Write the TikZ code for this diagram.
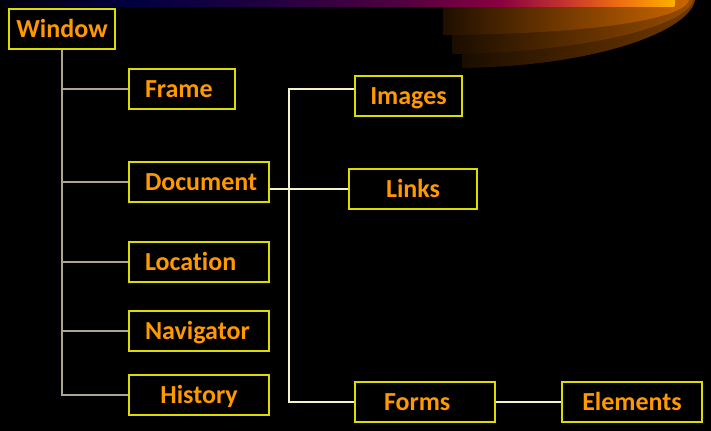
\documentclass[tikz,border=0pt]{standalone}
\usepackage{fontspec}
\setmainfont{Carlito}[Ligatures=NoCommon]
\usepackage{xcolor}
\usepackage{tikz}

\definecolor{boxyellow}{HTML}{DCDC00}
\definecolor{txtorange}{HTML}{FF9900}
\definecolor{wgrey}{HTML}{ABA78F}
\definecolor{dcream}{HTML}{F4F2C8}
\definecolor{barA}{HTML}{00000C}
\definecolor{barB}{HTML}{000040}
\definecolor{barC}{HTML}{200040}
\definecolor{barD}{HTML}{500040}
\definecolor{barE}{HTML}{8A0040}
\definecolor{barF}{HTML}{C03030}
\definecolor{barG}{HTML}{F07010}
\definecolor{barH}{HTML}{FFB000}
\pgfdeclarehorizontalshading{topbar}{100bp}{color(0bp)=(barA); color(25bp)=(barA);
  color(34.6bp)=(barB); color(44.3bp)=(barC); color(54.6bp)=(barD); color(62bp)=(barE);
  color(66.5bp)=(barF); color(71bp)=(barG); color(75bp)=(barH); color(100bp)=(barH)}

\begin{document}
\begin{tikzpicture}[x=0.5pt, y=-0.5pt,
        objbox/.style={draw=boxyellow, line width=0.75pt, fill=black, text=txtorange,
            font=\bfseries\fontsize{13}{15}\selectfont, minimum height=20pt,
            inner ysep=0pt, inner xsep=2pt, text height=8.4pt, text depth=0pt},
        lbox/.style={objbox, align=left, inner xsep=8pt, text width=#1},
        wline/.style={draw=wgrey, line width=0.9pt},
        dline/.style={draw=dcream, line width=0.6pt}]
    \useasboundingbox (0,0) rectangle (711,431);
    \fill[black] (0,0) rectangle (711,431);

    % swoosh at the top
    \shade[left color=black!90!orange, right color=orange!45!black]
        (462,0) -- (462,68) .. controls (600,66) and (690,30) .. (695,0) -- cycle;
    \shade[left color=black!90!orange, right color=orange!60!black]
        (452,0) -- (452,54) .. controls (590,52) and (688,25) .. (693,0) -- cycle;
    \shade[left color=black!88!orange, right color=orange!80!black]
        (443,0) -- (443,35) .. controls (600,34) and (685,18) .. (689,0) -- cycle;
    \shade[shading=topbar] (0,0) -- (0,7) -- (671,7) .. controls (675,7) .. (675,3) -- (675,0) -- cycle;

    \node[objbox, minimum width=53pt] (window) at (62,29) {Window};

    \node[lbox=37pt] (frame) at (182,89) {Frame};
    \node[lbox=54pt] (document) at (199,182) {Document};
    \node[lbox=54pt] (location) at (199,262) {Location};
    \node[lbox=54pt] (navigator) at (199,331) {Navigator};
    \node[objbox, minimum width=70pt] (history) at (199,395) {History};

    \node[objbox, minimum width=53.5pt] (images) at (408.5,96) {Images};
    \node[objbox, minimum width=64pt] (links) at (413,189) {Links};
    \node[lbox=41pt, inner xsep=14.5pt] (forms) at (425,402) {Forms};
    \node[objbox, minimum width=70pt] (elements) at (632,402) {Elements};

    \draw[wline] (window.south) -- (window.south |- history.west) -- (history.west);
    \foreach \n in {frame, document, location, navigator}
        \draw[wline] (window.south |- \n.west) -- (\n.west);

    \coordinate (imgin) at ([yshift=3.5pt]images.west);
    \coordinate (bus) at (289,189);
    \draw[dline] (imgin) -- (imgin -| bus) -- (forms.west -| bus) -- (forms.west);
    \draw[dline] (links.west -| document.east) -- (links.west);
    \draw[dline] (forms.east) -- (elements.west);
\end{tikzpicture}
\end{document}
